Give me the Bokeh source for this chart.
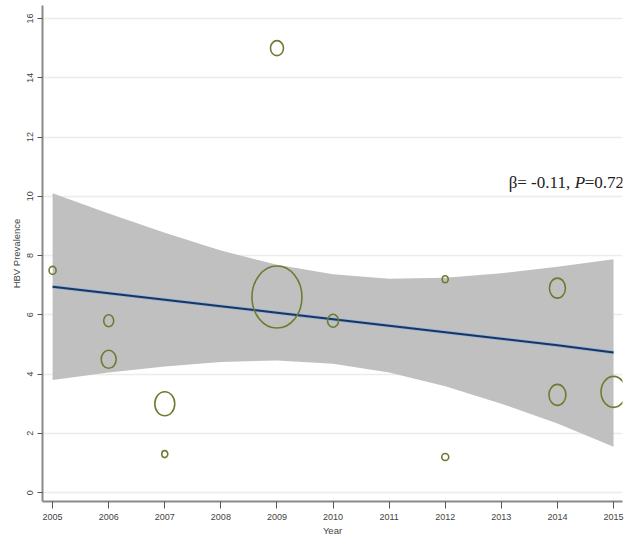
from bokeh.plotting import figure
from bokeh.models import ColumnDataSource, FixedTicker, Range1d
from bokeh.core.properties import value
from bokeh.embed import file_html
from bokeh.resources import INLINE

# Study points: year, prevalence, marker width/height (weight)
years = [2005, 2006, 2006, 2007, 2007, 2009, 2009, 2010, 2012, 2012, 2014, 2014, 2015]
prevalence = [7.5, 5.8, 4.5, 3.0, 1.3, 15.0, 6.6, 5.8, 7.2, 1.2, 6.9, 3.3, 3.4]
weight_w = [7, 10, 15, 20, 6, 13, 50, 11, 6, 7, 16, 17, 25]
weight_h = [8, 12, 18, 24, 7, 15, 62, 13, 7, 7, 20, 21, 31]

# Fitted line and confidence band
band_years = [2005, 2006, 2007, 2008, 2009, 2010, 2011, 2012, 2013, 2014, 2015]
fit_vals = [6.95, 6.73, 6.51, 6.29, 6.07, 5.85, 5.63, 5.41, 5.19, 4.97, 4.73]
upper_vals = [10.10, 9.42, 8.77, 8.17, 7.69, 7.37, 7.22, 7.25, 7.40, 7.62, 7.88]
lower_vals = [3.80, 4.05, 4.26, 4.41, 4.46, 4.35, 4.05, 3.59, 3.00, 2.33, 1.55]

x_ticks = list(range(2005, 2016))
y_ticks = [0, 2, 4, 6, 8, 10, 12, 14, 16]

p = figure(width=624, height=538, output_backend="svg", toolbar_location=None,
           x_range=Range1d(2004.82, 2015.16), y_range=Range1d(-0.30, 16.44),
           min_border_top=5, min_border_right=2, min_border_left=42, min_border_bottom=33)
p.outline_line_color = None
p.background_fill_color = "white"

band = ColumnDataSource(dict(x=band_years, lo=lower_vals, hi=upper_vals, fit=fit_vals))
p.varea(x="x", y1="lo", y2="hi", source=band, fill_color="#c0c0c0", fill_alpha=1.0)
p.line(x="x", y="fit", source=band, line_color="#8fb3d9", line_width=3.5)
p.line(x="x", y="fit", source=band, line_color="#1c3560", line_width=2)

pts = ColumnDataSource(dict(x=years, y=prevalence, w=weight_w, h=weight_h))
p.ellipse(x="x", y="y", width="w", height="h", width_units="screen", height_units="screen",
          source=pts, fill_color=None, line_color="#6e7c32", line_width=1.6)

# annotation
p.text(x=[2013.13], y=[10.45], text=["β= -0.11, "], text_font=value("Liberation Serif"),
       text_font_size="17px", text_color="#222222", text_baseline="middle", text_align="left")
p.text(x=[2013.13], y=[10.45], text=["P"], x_offset=66, text_font=value("Liberation Serif"),
       text_font_style="italic", text_font_size="17px", text_color="#222222",
       text_baseline="middle", text_align="left")
p.text(x=[2013.13], y=[10.45], text=["=0.72"], x_offset=76, text_font=value("Liberation Serif"),
       text_font_size="17px", text_color="#222222", text_baseline="middle", text_align="left")

p.xgrid.grid_line_color = None
p.ygrid.grid_line_color = "#ececec"
p.ygrid.grid_line_width = 1.5
p.xaxis.ticker = FixedTicker(ticks=x_ticks)
p.yaxis.ticker = FixedTicker(ticks=y_ticks)
p.xaxis.minor_tick_line_color = None
p.yaxis.minor_tick_line_color = None

for ax in (p.xaxis, p.yaxis):
    ax.axis_line_color = "#8a8a8a"
    ax.axis_line_width = 2
    ax.major_tick_line_color = "#555555"
    ax.major_tick_in = 0
    ax.major_label_text_font = "Liberation Sans"
    ax.major_label_text_font_size = "9px"
    ax.major_label_text_color = "#444444"
    ax.axis_label_text_font = "Liberation Sans"
    ax.axis_label_text_font_size = "9.5px"
    ax.axis_label_text_font_style = "normal"
    ax.axis_label_text_color = "#444444"

p.xaxis.axis_label = "Year"
p.xaxis.major_tick_out = 7
p.xaxis.major_label_standoff = 5
p.xaxis.axis_label_standoff = 2
p.yaxis.axis_label = "HBV Prevalence"
p.yaxis.major_tick_out = 5
p.yaxis.major_label_orientation = "vertical"
p.yaxis.major_label_standoff = 4
p.yaxis.axis_label_standoff = 3

open("out.html", "w").write(file_html(p, INLINE))
